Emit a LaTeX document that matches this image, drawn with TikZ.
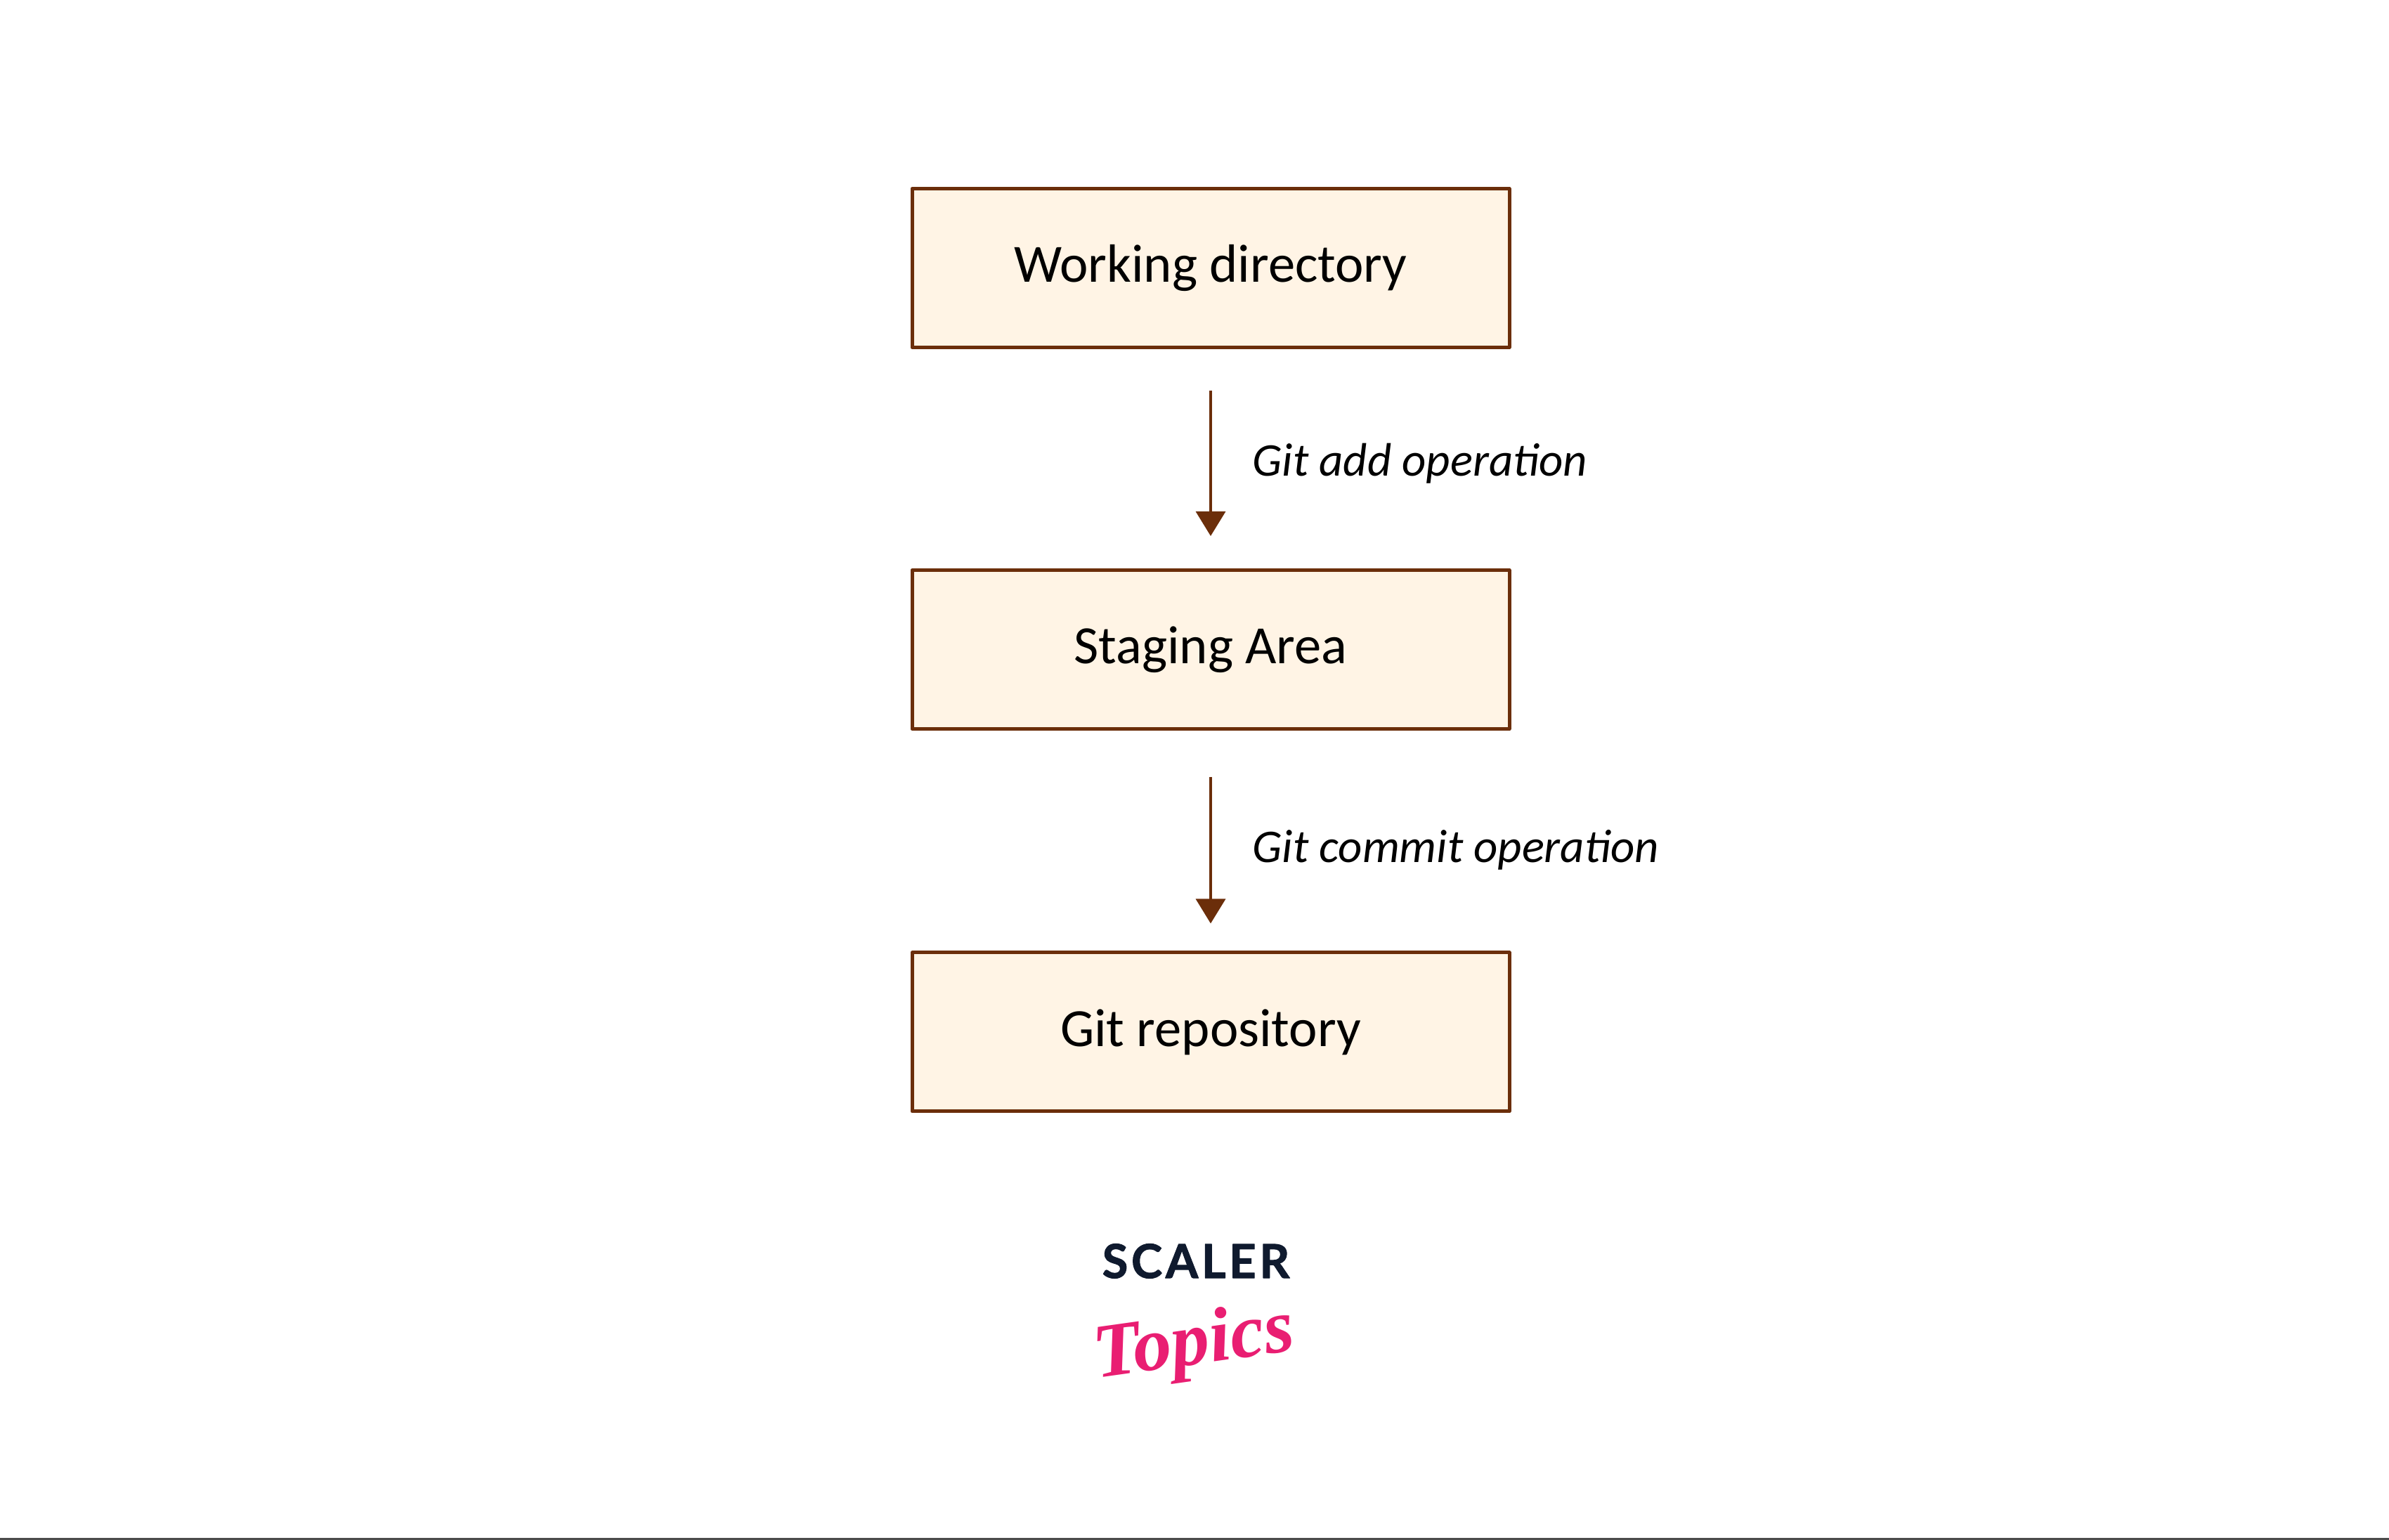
\documentclass[tikz,border=0pt]{standalone}
\usepackage{fontspec}
\setmainfont{Carlito}
\newfontfamily\logofont[LetterSpace=7,BoldFeatures={FakeBold=1.5}]{Lato}
\newfontfamily\topicsfont{Liberation Serif}
\usetikzlibrary{arrows.meta}
\definecolor{boxfill}{HTML}{FFF4E5}
\definecolor{boxline}{HTML}{6B2E0A}
\definecolor{logodark}{HTML}{0F1A2E}
\definecolor{logopink}{HTML}{E91E72}
\begin{document}
\begin{tikzpicture}[line join=round,>={Triangle[length=0.35cm,width=0.42cm]}]
	\tikzset{stagebox/.style={draw=boxline,fill=boxfill,line width=0.05cm,minimum width=8.5cm,minimum height=2.26cm,font=\fontsize{21.8}{26}\selectfont},
		oplabel/.style={right,font=\fontsize{19}{23}\selectfont\itshape,text=black,inner sep=0pt,xshift=0.58cm},
		oparrow/.style={->,draw=boxline,fill=boxline,line width=0.035cm}}
	\useasboundingbox (0,0) rectangle (34,21.92);
	\node[stagebox] (wd) at (17.23,18.105) {Working directory};
	\node[stagebox] (sa) at (17.23,12.675) {Staging Area};
	\node[stagebox] (gr) at (17.23,7.23) {Git repository};
	\draw[oparrow,shorten <=0.59cm,shorten >=0.46cm] (wd)--(sa) node[oplabel,pos=0.5,yshift=-0.065cm] (addop) {Git add operation};
	\draw[oparrow,shorten <=0.66cm,shorten >=0.39cm] (sa)--(gr) node[oplabel,pos=0.5,yshift=-0.13cm] (commitop) {Git commit operation};
	% logo
	\node[text=logodark,font=\fontsize{19}{23}\logofont\bfseries,inner sep=0pt] (scaler) at (17.02,3.97) {SCALER};
	\node[text=logopink,font=\fontsize{31}{35}\topicsfont\itshape\bfseries,inner sep=0pt,rotate=8] (topics) at (17,2.76) {Topics};
	\coordinate (ruleleft) at (0,0.01);
	\coordinate (ruleright) at (34,0.01);
	\draw[gray!60!black,line width=0.03cm] (ruleleft)--(ruleright);
\end{tikzpicture}
\end{document}
